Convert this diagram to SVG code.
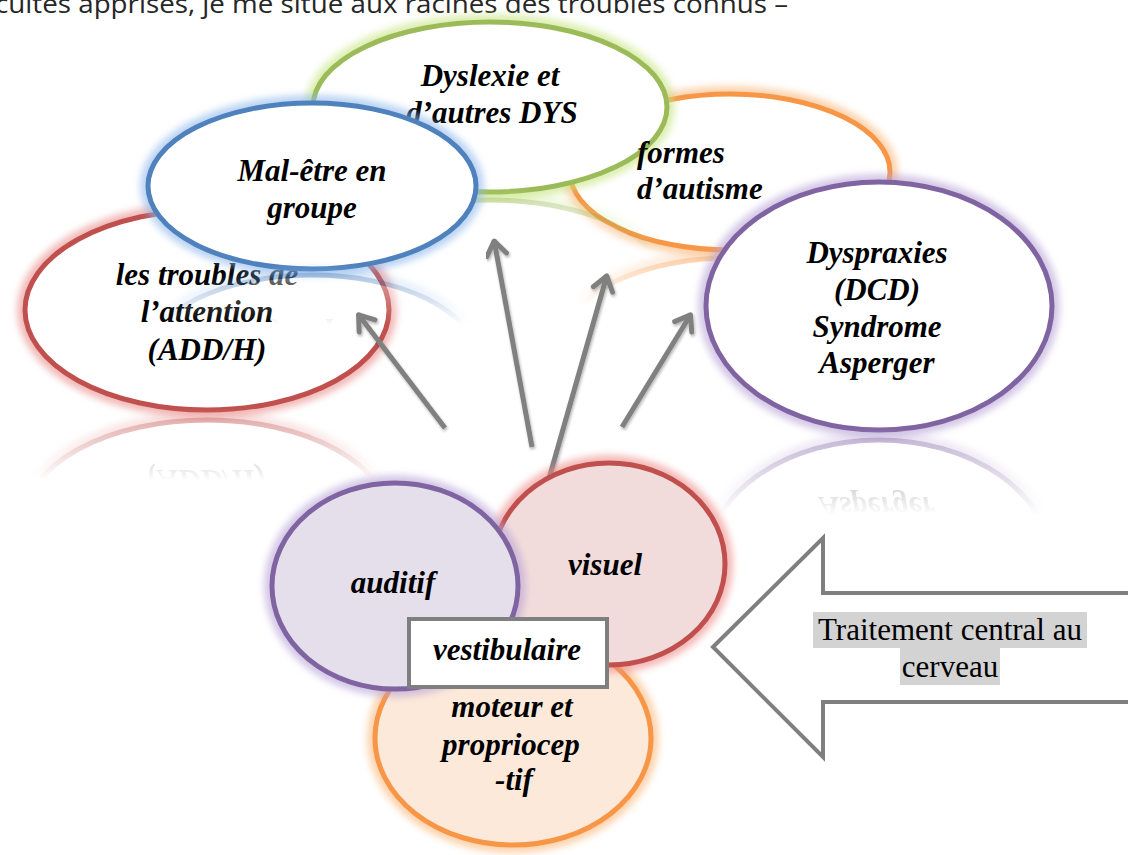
<svg xmlns="http://www.w3.org/2000/svg" width="1128" height="855" viewBox="0 0 1128 855">
<style>
.lbl{font-family:"Liberation Serif","Times New Roman",serif;font-weight:bold;font-style:italic;font-size:31px;fill:#000;text-anchor:middle}
.plain{font-family:"Liberation Serif","Times New Roman",serif;font-size:31px;fill:#000;text-anchor:middle}
.top{font-family:"Open Sans","Liberation Sans",sans-serif;font-size:26px;fill:#262626}
.glow{fill:none;stroke-width:16;opacity:.6;filter:url(#blur)}
.main{stroke-width:5}
.arrow{stroke:#808080;stroke-width:5;fill:none;marker-end:url(#head);filter:url(#shadow)}
</style>
<defs>
<filter id="blur" x="-20%" y="-20%" width="140%" height="140%"><feGaussianBlur stdDeviation="3.5"/></filter>
<filter id="shadow" x="-20%" y="-20%" width="140%" height="140%">
<feGaussianBlur in="SourceAlpha" stdDeviation="1.5"/><feOffset dx="1" dy="2" result="o"/>
<feComponentTransfer in="o" result="s"><feFuncA type="linear" slope=".3"/></feComponentTransfer>
<feMerge><feMergeNode in="s"/><feMergeNode in="SourceGraphic"/></feMerge>
</filter>
<marker id="head" markerUnits="userSpaceOnUse" markerWidth="40" markerHeight="40" viewBox="-20 -20 40 40" refX="0" refY="0" orient="auto" overflow="visible">
<path d="M-15,-10 L-1,0 L-15,10" fill="none" stroke="#808080" stroke-width="5" stroke-linecap="round" stroke-linejoin="round"/>
</marker>
<linearGradient id="fade" x1="0" y1="0" x2="0" y2="1">
<stop offset="0" stop-color="#fff" stop-opacity=".45"/>
<stop offset="0.14" stop-color="#fff" stop-opacity=".45"/>
<stop offset="0.36" stop-color="#fff" stop-opacity="0"/>
</linearGradient>
<mask id="refl" maskUnits="objectBoundingBox" x="-0.2" y="-0.2" width="1.4" height="1.4" maskContentUnits="objectBoundingBox">
<rect x="-0.2" y="-0.2" width="1.4" height="1.4" fill="url(#fade)"/>
</mask>
</defs>
<rect width="1128" height="855" fill="#fff"/>
<text class="top" x="-5" y="13" textLength="793" lengthAdjust="spacingAndGlyphs">cultés apprises, je me situe aux racines des troubles connus –</text>

<g id="node-attention">
<g id="s-red">
<ellipse class="glow" cx="207" cy="310" rx="182" ry="100" stroke="#E88A88"/>
<ellipse class="main" cx="207" cy="310" rx="182" ry="100" fill="#fff" stroke="#C0504D"/>
<text class="lbl" x="207" y="285">les troubles de</text>
<text class="lbl" x="207" y="322">l’attention</text>
<text class="lbl" x="207" y="360">(ADD/H)</text>
</g>
<g mask="url(#refl)"><use href="#s-red" transform="translate(0,830) scale(1,-1)"/></g>
</g>

<g id="node-autisme">
<g id="s-orange">
<ellipse class="glow" cx="730" cy="172" rx="160" ry="78" stroke="#FBB677"/>
<ellipse class="main" cx="730" cy="172" rx="160" ry="78" fill="#fff" stroke="#F79646"/>
</g>
<g mask="url(#refl)"><use href="#s-orange" transform="translate(0,508) scale(1,-1)"/></g>
</g>

<g id="node-dys">
<g id="s-green">
<ellipse class="glow" cx="490" cy="107" rx="177" ry="85" stroke="#C6E47E"/>
<ellipse class="main" cx="490" cy="107" rx="177" ry="85" fill="#fff" stroke="#9BBB59"/>
<text class="lbl" x="490" y="86">Dyslexie et</text>
<text class="lbl" x="492" y="123">d’autres DYS</text>
</g>
<g mask="url(#refl)"><use href="#s-green" transform="translate(0,392) scale(1,-1)"/></g>
</g>

<g id="node-autisme-label">
<text class="lbl" x="637" y="163" style="text-anchor:start">formes</text>
<text class="lbl" x="637" y="199" style="text-anchor:start">d’autisme</text>
</g>

<g id="node-groupe">
<g id="s-blue">
<ellipse class="glow" cx="312" cy="186" rx="164" ry="83" stroke="#8DB8EC"/>
<ellipse class="main" cx="312" cy="186" rx="164" ry="83" fill="#fff" stroke="#4F81BD"/>
<text class="lbl" x="312" y="181">Mal-être en</text>
<text class="lbl" x="312" y="218">groupe</text>
</g>
<g mask="url(#refl)"><use href="#s-blue" transform="translate(0,544) scale(1,-1)"/></g>
</g>

<g id="node-dyspraxies">
<g id="s-purple">
<ellipse class="glow" cx="879" cy="306" rx="173" ry="124" stroke="#B7A3D6"/>
<ellipse class="main" cx="879" cy="306" rx="173" ry="124" fill="#fff" stroke="#8064A2"/>
<text class="lbl" x="877" y="263">Dyspraxies</text>
<text class="lbl" x="877" y="300">(DCD)</text>
<text class="lbl" x="877" y="337">Syndrome</text>
<text class="lbl" x="877" y="373">Asperger</text>
</g>
<g mask="url(#refl)"><use href="#s-purple" transform="translate(0,870) scale(1,-1)"/></g>
</g>

<g id="connectors">
<line class="arrow" x1="445" y1="428" x2="358" y2="314"/>
<line class="arrow" x1="532" y1="447" x2="494" y2="240"/>
<line class="arrow" x1="548" y1="482" x2="607" y2="275"/>
<line class="arrow" x1="622" y1="427" x2="691" y2="314"/>
</g>

<g id="node-moteur">
<ellipse class="glow" cx="513" cy="738" rx="138" ry="107" stroke="#FBB677"/>
<ellipse class="main" cx="513" cy="738" rx="138" ry="107" fill="#FDE9D9" stroke="#F79646"/>
<text class="lbl" x="512" y="717">moteur et</text>
<text class="lbl" x="511" y="755">propriocep</text>
<text class="lbl" x="514" y="790">-tif</text>
</g>

<g id="node-visuel">
<ellipse class="glow" cx="609" cy="564" rx="116" ry="101" stroke="#EE8A88"/>
<ellipse class="main" cx="609" cy="564" rx="116" ry="101" fill="#F2DCDB" stroke="#C0504D"/>
<text class="lbl" x="605" y="575">visuel</text>
</g>

<g id="node-auditif">
<ellipse class="glow" cx="395" cy="586" rx="123" ry="103" stroke="#B7A3D6"/>
<ellipse class="main" cx="395" cy="586" rx="123" ry="103" fill="#E5DFEC" stroke="#8064A2"/>
<text class="lbl" x="393" y="593">auditif</text>
</g>

<g id="node-vestibulaire">
<rect x="409" y="619" width="198" height="68" fill="#fff" stroke="#7F7F7F" stroke-width="4"/>
<text class="lbl" x="507" y="660">vestibulaire</text>
</g>

<g id="node-traitement">
<polygon points="713,647 823,538 823,593 1140,593 1140,702 823,702 823,757" fill="#fff" stroke="#7F7F7F" stroke-width="4" stroke-linejoin="miter"/>
<rect x="813" y="612" width="274" height="36" fill="#D3D3D3"/>
<rect x="900" y="648" width="100" height="37" fill="#D3D3D3"/>
<text class="plain" x="950" y="640">Traitement central au</text>
<text class="plain" x="950" y="677">cerveau</text>
</g>
</svg>
